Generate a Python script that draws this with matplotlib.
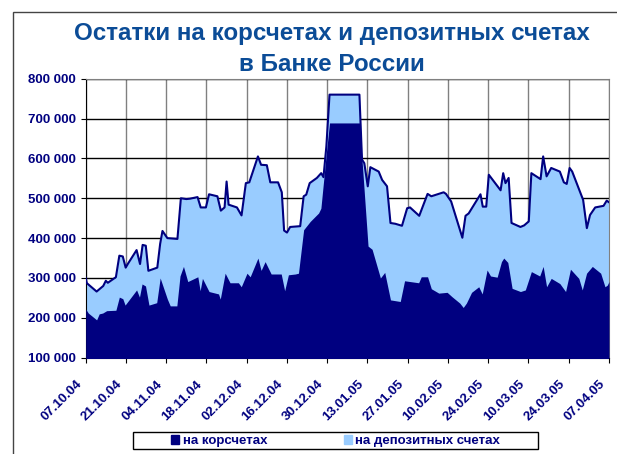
import datetime as dt
import numpy as np
import matplotlib
matplotlib.use("Agg")
import matplotlib.pyplot as plt
import matplotlib.dates as mdates
import matplotlib.transforms as mtransforms
from matplotlib.patches import Patch, Rectangle
from matplotlib.ticker import FuncFormatter, MultipleLocator

# день от 07.10.04 -> сумма (корсчета + депозиты), тыс.
total_days = [0, 0.4, 3.8, 6.1, 7.0, 7.7, 10.5, 11.7, 12.9, 13.9, 14.8, 17.7, 18.9, 19.8,
              20.9, 21.8, 24.9, 25.9, 26.7, 28.4, 31.9, 33.1, 35.0, 36.3, 38.9, 40.0,
              41.8, 42.9, 45.8, 47.0, 48.3, 49.0, 49.7, 52.6, 54.2, 55.7, 56.9, 59.9,
              61.0, 63.0, 64.2, 66.9, 68.2, 69.0, 70.0, 71.1, 74.6, 75.8, 76.7, 77.9,
              80.4, 81.9, 82.7, 83.7, 84.8, 95.2, 96.1, 96.9, 98.1, 99.0, 101.9, 103.1,
              104.8, 106.0, 107.7, 110.0, 111.8, 112.8, 116.0, 118.9, 120.2, 124.5,
              125.3, 127.1, 131.0, 132.1, 133.2, 137.3, 138.1, 139.3, 140.2, 144.3,
              145.2, 146.0, 147.1, 148.1, 151.2, 152.5, 154.1, 155.0, 158.2, 159.1,
              160.3, 161.9, 164.9, 166.3, 167.3, 168.3, 169.2, 173.0, 174.3, 175.4,
              177.2, 180.1, 181.2, 182.0]
total_vals = [300, 287, 266, 280, 293, 288, 302, 356, 354, 326, 337, 370, 335, 383,
              381, 318, 326, 386, 418, 400, 398, 500, 498, 499, 503, 477,
              477, 510, 505, 469, 477, 542, 484, 477, 457, 538, 540, 605,
              584, 583, 540, 540, 515, 419, 414, 428, 430, 505, 509, 538,
              551, 563, 553, 630, 760, 760, 597, 588, 530, 578, 567, 546,
              530, 438, 436, 431, 475, 477, 456, 511, 505, 515,
              511, 492, 401, 456, 462, 510, 479, 479, 559, 520,
              563, 538, 551, 438, 428, 432, 442, 563, 548, 605,
              555, 576, 567, 540, 536, 576, 567, 496, 425, 458,
              477, 481, 494, 490]

# день от 07.10.04 -> на корсчетах, тыс.
kors_days = [0, 0.9, 3.8, 4.7, 5.9, 7.3, 10.5, 11.7, 12.9, 13.7, 17.7, 18.7, 19.6, 20.8,
             22.0, 24.7, 25.9, 28.4, 29.4, 31.7, 32.8, 34.0, 34.6, 35.5, 39.0, 39.8,
             40.6, 42.9, 46.2, 46.8, 48.5, 50.2, 53.1, 54.1, 56.1, 57.2, 59.9, 61.0,
             62.4, 64.5, 68.0, 69.2, 70.5, 72.9, 74.0, 75.8, 78.1, 81.0, 81.8, 83.7,
             84.8, 95.2, 98.2, 99.6, 102.5, 104.0, 106.0, 109.4, 110.9, 115.8, 116.7,
             118.9, 120.2, 122.8, 125.7, 127.4, 130.1, 131.3, 132.4, 134.2, 136.7,
             137.9, 139.6, 140.8, 143.1, 144.6, 145.4, 146.8, 148.3, 151.2, 152.9,
             155.0, 157.9, 159.1, 160.3, 161.9, 164.9, 166.9, 168.6, 171.5, 172.7,
             174.2, 176.2, 179.1, 180.6, 181.4, 182.0]
kors_vals = [222, 212, 195, 210, 212, 218, 219, 252, 248, 232, 270, 252, 285, 280,
             232, 238, 300, 247, 230, 230, 305, 329, 314, 291, 303, 268,
             299, 266, 260, 247, 312, 288, 288, 278, 312, 303, 350, 319,
             341, 310, 310, 268, 308, 310, 312, 421, 442, 463, 475, 614,
             689, 689, 380, 372, 300, 314, 245, 241, 293, 288, 303,
             303, 273, 262, 264, 253, 237, 226, 237, 264, 278,
             260, 320, 305, 302, 341, 350, 339, 274, 266, 270,
             316, 305, 329, 278, 299, 286, 266, 322, 299, 270,
             312, 329, 312, 278, 282, 291]

START = dt.datetime(2004, 10, 7)
NAVY = "#000080"
LIGHT = "#99CCFF"
TITLE_C = "#0B4C97"
W, H = 617, 454

plt.rcParams["font.family"] = ["Liberation Sans", "DejaVu Sans"]

fig = plt.figure(figsize=(W / 100, H / 100), dpi=100)
# рамка области диаграммы
fig.patches.append(Rectangle((13 / W, -0.1), 1.2, 1 - 12 / H + 0.1,
                             transform=fig.transFigure, fill=False,
                             edgecolor="#444444", lw=1))
ax = fig.add_axes([85.7 / W, 1 - 357.7 / H, (609 - 85.7) / W, (357.7 - 78.7) / H])

t0 = mdates.date2num(START)
xt = t0 + np.array(total_days)
xk = t0 + np.array(kors_days)
yt = np.array(total_vals) * 1000
yk = np.array(kors_vals) * 1000

ax.fill_between(xt, 0, yt, color=LIGHT, lw=0, zorder=2)
ax.fill_between(xk, 0, yk, color=NAVY, lw=0, zorder=3)
ax.plot(xt, yt, color=NAVY, lw=1.5, zorder=4)

ax.set_xlim(t0, t0 + 182)
ax.set_ylim(100000, 800000)
ax.yaxis.set_major_locator(MultipleLocator(100000))
ax.yaxis.set_major_formatter(FuncFormatter(lambda v, p: f"{int(v):,}".replace(",", " ")))
ax.set_xticks(t0 + np.arange(0, 183, 14))
ax.xaxis.set_major_formatter(mdates.DateFormatter("%d.%m.%y"))

ax.grid(axis="y", color="black", lw=1, zorder=0)
ax.grid(axis="x", color="#808080", lw=1, zorder=0)
ax.set_axisbelow(True)
for s in ["top", "right"]:
    ax.spines[s].set_color("#808080")
for s in ["left", "bottom"]:
    ax.spines[s].set_color("black")

ax.tick_params(axis="both", direction="out", length=3.4, color="black",
               labelcolor=NAVY, labelsize=9.5)
ax.tick_params(axis="y", pad=3.6)
ax.tick_params(axis="x", pad=14.5)
shift = mtransforms.ScaledTranslation(-6 / 100, 0, fig.dpi_scale_trans)
for lab in ax.get_yticklabels():
    lab.set_fontweight("bold")
for lab in ax.get_xticklabels():
    lab.set_fontweight("bold")
    lab.set_rotation(45)
    lab.set_ha("right")
    lab.set_va("center")
    lab.set_rotation_mode("anchor")
    lab.set_transform(lab.get_transform() + shift)

fig.text(0.538, 1 - 40 / H, "Остатки на корсчетах и депозитных счетах",
         ha="center", va="baseline", fontsize=17.4, fontweight="bold", color=TITLE_C)
fig.text(0.538, 1 - 71 / H, "в Банке России",
         ha="center", va="baseline", fontsize=17.4, fontweight="bold", color=TITLE_C)

# легенда
fig.patches.append(Rectangle((132.7 / W, 1 - 449.3 / H), (538.3 - 132.7) / W, 17.6 / H,
                             transform=fig.transFigure, fill=True, facecolor="white",
                             edgecolor="black", lw=1))
handles = [Patch(color=NAVY, label="на корсчетах"),
           Patch(color=LIGHT, label="на депозитных счетах")]
leg = fig.legend(handles=handles, loc="center left", bbox_to_anchor=(171 / W, 1 - 441 / H),
                 ncol=2, frameon=False, borderpad=0, borderaxespad=0,
                 handlelength=0.62, handleheight=0.68, handletextpad=0.26,
                 columnspacing=5.8, prop={"weight": "bold", "size": 9.5})
for txt in leg.get_texts():
    txt.set_color(NAVY)

fig.savefig("out.png", dpi=100)
